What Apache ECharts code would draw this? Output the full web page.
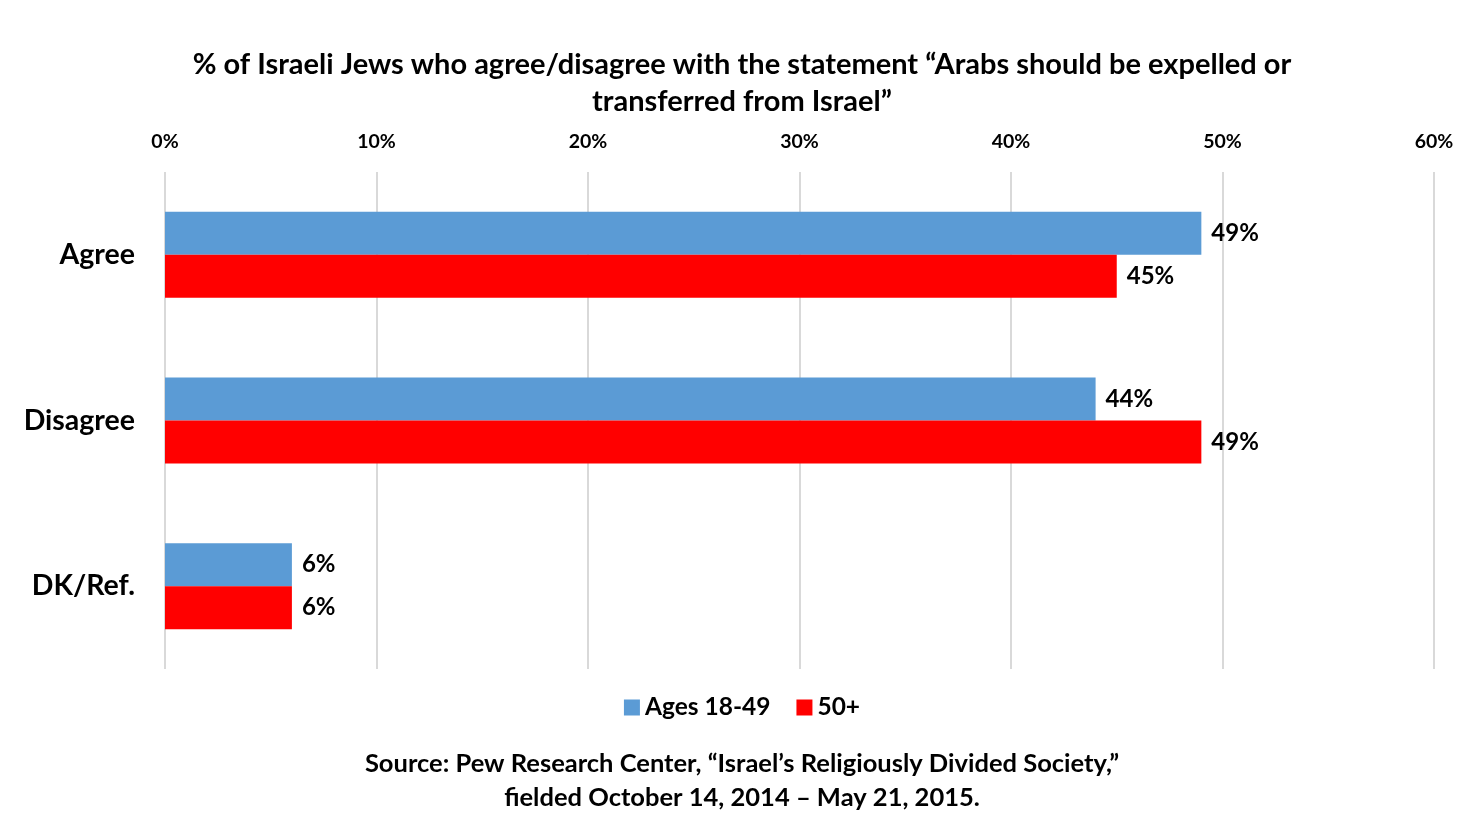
<!DOCTYPE html>
<html><head><meta charset="utf-8">
<script src="https://cdn.jsdelivr.net/npm/echarts@6/dist/echarts.min.js"></script>
<style>html,body{margin:0;padding:0;background:#fff}#c{width:1484px;height:834px}</style>
</head><body><div id="c"></div>
<script>
const categories = ['Agree', 'Disagree', 'DK/Ref.'];
const seriesNames = ['Ages 18-49', '50+'];
const young = [49, 44, 6];
const old = [45, 49, 6];
const titleText = '% of Israeli Jews who agree/disagree with the statement \u201cArabs should be expelled or\ntransferred from Israel\u201d';
const sourceText = 'Source: Pew Research Center, \u201cIsrael\u2019s Religiously Divided Society,\u201d\nfielded October 14, 2014 \u2013 May 21, 2015.';
const FONT = 'Lato';
const chart = echarts.init(document.getElementById('c'));
const labelStyle = {show: true, position: 'right', distance: 10, formatter: '{c}%', fontFamily: FONT, fontWeight: 'bold', fontSize: 24, color: '#000'};
chart.setOption({
  animation: false,
  textStyle: {fontFamily: FONT},
  title: [
    {text: titleText, left: 'center', top: 41, textStyle: {fontFamily: FONT, fontWeight: 'bold', fontSize: 29, lineHeight: 37, color: '#000'}},
    {text: sourceText, left: 'center', top: 742, textStyle: {fontFamily: FONT, fontWeight: 'bold', fontSize: 25.5, lineHeight: 34, color: '#000'}}
  ],
  legend: {
    data: seriesNames, bottom: 109, left: 'center', itemWidth: 16, itemHeight: 16, itemGap: 26,
    icon: 'rect',
    textStyle: {fontFamily: FONT, fontWeight: 'bold', fontSize: 24.5, color: '#000'}
  },
  grid: {left: 165, right: 50, top: 172, bottom: 165},
  xAxis: {
    type: 'value', position: 'top', min: 0, max: 60, interval: 10,
    axisLabel: {formatter: '{value}%', fontFamily: FONT, fontWeight: 'bold', fontSize: 19.5, color: '#000', margin: 20},
    axisLine: {show: false}, axisTick: {show: false},
    splitLine: {show: true, lineStyle: {color: '#d9d9d9', width: 2}}
  },
  yAxis: {
    type: 'category', data: categories, inverse: true,
    axisLine: {show: false}, axisTick: {show: false},
    axisLabel: {fontFamily: FONT, fontWeight: 'bold', fontSize: 28.5, color: '#000', margin: 30}
  },
  series: [
    {name: seriesNames[0], type: 'bar', data: young, barWidth: 43, barGap: '0%', itemStyle: {color: '#5b9bd5'}, label: labelStyle},
    {name: seriesNames[1], type: 'bar', data: old, barWidth: 43, barGap: '0%', itemStyle: {color: '#ff0000'}, label: labelStyle}
  ]
});
</script></body></html>
